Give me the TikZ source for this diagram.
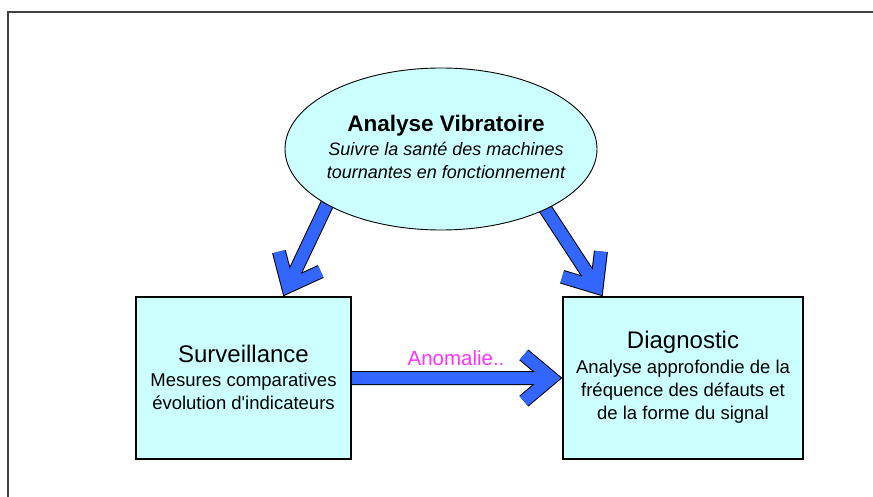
\documentclass[tikz,border=0pt]{standalone}
\usepackage{fontspec}
\setmainfont{Liberation Sans}
\usetikzlibrary{shapes.geometric,calc}
\definecolor{cyanfill}{HTML}{CCFFFF}
\definecolor{arrowblue}{HTML}{3366FF}
\definecolor{anomag}{HTML}{FF33FF}
\pgfdeclarelayer{bg}
\pgfsetlayers{bg,main}
% block arrow: #1 start, #2 outer tip point (on target border)
\newcommand\blockarrow[2]{%
  \coordinate (ba-s) at (#1);
  \coordinate (ba-e) at (#2);
  \coordinate (ba-t) at ($(ba-e)!11pt!(ba-s)$);
  \coordinate (ba-a) at ($(ba-t)!36pt!40:(ba-s)$);
  \coordinate (ba-b) at ($(ba-t)!36pt!-40:(ba-s)$);
  \draw[arrowout] (ba-s) -- (ba-t) (ba-a) -- (ba-t) -- (ba-b);
  \draw[arrowin] (ba-s) -- (ba-t) (ba-a) -- (ba-t) -- (ba-b);
}
\begin{document}
\begin{tikzpicture}[x=1pt,y=-1pt,
  boxstyle/.style={rectangle, draw=black, line width=1.2pt, fill=cyanfill, inner sep=0pt},
  ellstyle/.style={ellipse, draw=black, line width=0.9pt, fill=cyanfill, inner sep=0pt,
                   minimum width=312pt, minimum height=162pt},
  arrowout/.style={draw=black, line width=14pt, line join=miter, line cap=butt},
  arrowin/.style={draw=arrowblue, line width=12pt, line join=miter, line cap=butt},
  bodytext/.style={align=center, text=black, font=\fontsize{18.5}{23}\selectfont},
  frame/.style={draw=black!75, line width=2pt}]
\useasboundingbox (0,0) rectangle (873,497);
\begin{pgfonlayer}{bg}
  \fill[white] (0,0) rectangle (873,497);
\end{pgfonlayer}
\draw[frame] (8,497) -- (8,12) -- (873,12);

\node[ellstyle] (ell) at (441,149) {};
\node[align=center, font=\itshape\fontsize{18}{23}\selectfont] (ellt) at (446,146.5)
  {{\upshape\bfseries\fontsize{22.5}{25}\selectfont Analyse Vibratoire}\\[1pt]
   Suivre la santé des machines\\tournantes en fonctionnement};

\node[boxstyle, minimum width=215pt, minimum height=162pt] (surv) at (243.5,378) {};
\node[bodytext] (survt) at (243.5,377)
  {{\fontsize{24}{26}\selectfont Surveillance}\\[1pt]
   Mesures comparatives\\évolution d\textquotesingle indicateurs};

\node[boxstyle, minimum width=240pt, minimum height=162pt] (diag) at (683,378) {};
\node[bodytext] (diagt) at (683,377.5)
  {{\fontsize{24}{26}\selectfont Diagnostic}\\[2pt]
   Analyse approfondie de la\\fréquence des défauts et\\de la forme du signal};

\node[text=anomag, font=\fontsize{20.5}{24}\selectfont, anchor=base, inner sep=0pt] (anom) at (456,365) {Anomalie..};

\begin{pgfonlayer}{bg}
  \blockarrow{$(ell.206)!-10pt!($(surv.north west)!0.684!(surv.north east)$)$}{$(surv.north west)!0.684!(surv.north east)$}
  \blockarrow{$(ell.-30)!-10pt!($(diag.north west)!0.167!(diag.north east)$)$}{$(diag.north west)!0.167!(diag.north east)$}
  \blockarrow{$(surv.east)+(-5,0)$}{diag.west}
\end{pgfonlayer}
\end{tikzpicture}
\end{document}
